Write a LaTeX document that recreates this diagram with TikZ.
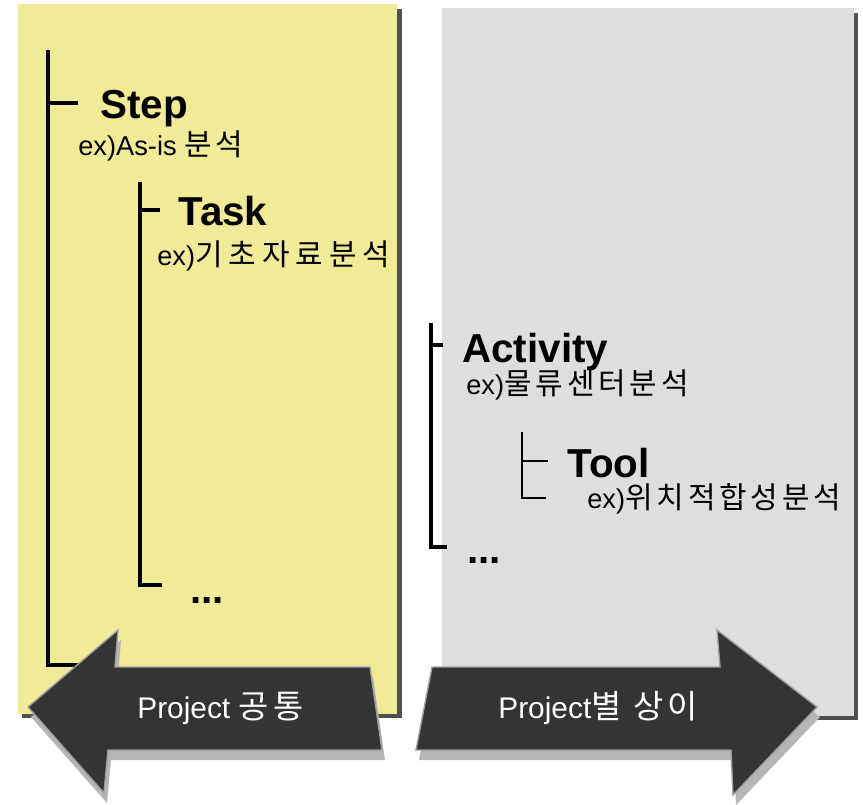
\documentclass[tikz,border=0pt]{standalone}
\usepackage{fontspec}
\setmainfont{Liberation Sans}
\newfontfamily\kr[Scale=1.1, LetterSpace=13]{Noto Sans CJK KR}
\newfontfamily\krwide[Scale=1.1, LetterSpace=20]{Noto Sans CJK KR}
\usepackage{xcolor}
\usepackage{tikz}
\usetikzlibrary{calc, positioning}
\definecolor{panelYellow}{RGB}{240,235,150}
\definecolor{panelGray}{RGB}{222,222,222}
\definecolor{panelShadow}{RGB}{80,80,80}
\definecolor{arrowDark}{RGB}{52,52,52}
\definecolor{arrowShadow}{RGB}{182,182,182}
\tikzset{
    panel/.style={fill=#1, draw=none},
    panelShade/.style={fill=panelShadow, draw=none},
    bar/.style={line width=2.3pt, draw=black},
    thinBar/.style={line width=1.5pt, draw=black},
    head/.style={inner sep=0pt, anchor=base west, font=\fontsize{23}{27}\selectfont\bfseries},
    example/.style={inner sep=0pt, anchor=base west, font=\fontsize{15.5}{18}\selectfont},
    more/.style={inner sep=0pt, anchor=base west, font=\fontsize{23}{27}\selectfont\bfseries},
    bigArrow/.style={fill=arrowDark, draw=gray!75, line width=0.8pt, line join=miter},
    arrowShade/.style={fill=arrowShadow, draw=none},
    arrowText/.style={inner sep=0pt, anchor=base west, text=white, font=\fontsize{17}{20}\selectfont}
}

\begin{document}
\begin{tikzpicture}[x=0.02cm, y=-0.02cm]
    \useasboundingbox (0,0) rectangle (863,805);

    % --- PANELS ---
    \fill[panelShade] (22,9) rectangle (402,718);
    \fill[panel=panelYellow] (18,4) rectangle (397,714);
    \fill[panelShade] (446,13) rectangle (858,720);
    \fill[panel=panelGray] (442,8) rectangle (854,716);

    % --- COMMON PART (left) ---
    \coordinate (stepTop) at (48,50);
    \coordinate (stepBot) at (48,665);
    \coordinate (stepTick) at (48,103);
    \draw[bar] (stepTop) -- (stepBot) -- ++(32,0);
    \draw[bar] (stepTick) -- ++(30,0);
    \node[head] (step) at (100,118) {Step};
    \node[example] (stepEx) at (78,155) {ex)As-is {\kr 분석}};

    \coordinate (taskTop) at (140,182);
    \coordinate (taskBot) at (140,585);
    \coordinate (taskTick) at (140,210);
    \draw[bar] (taskTop) -- (taskBot) -- ++(22,0);
    \draw[bar] (taskTick) -- ++(20,0);
    \node[head] (task) at (178,225) {Task};
    \node[example] (taskEx) at (157,265) {ex){\krwide 기초자료분석}};
    \node[more] (taskMore) at (190,603) {...};

    % --- PROJECT SPECIFIC PART (right) ---
    \coordinate (actTop) at (431,323);
    \coordinate (actBot) at (431,547);
    \coordinate (actTick) at (431,345);
    \draw[bar] (actTop) -- (actBot) -- ++(16,0);
    \draw[bar] (actTick) -- ++(12,0);
    \node[head] (activity) at (462,362) {Activity};
    \node[example] (activityEx) at (466,394) {ex){\kr 물류센터분석}};
    \node[more] (actMore) at (467,563) {...};

    \coordinate (toolTop) at (522,432);
    \coordinate (toolBot) at (522,498);
    \coordinate (toolTick) at (522,461);
    \draw[thinBar] (toolTop) -- (toolBot) -- ++(24,0);
    \draw[thinBar] (toolTick) -- ++(26,0);
    \node[head] (tool) at (567,477) {Tool};
    \node[example] (toolEx) at (587,508) {ex){\kr 위치적합성분석}};

    % --- ARROWS ---
    \fill[arrowShade, shift={(3,10)}] (28,707) -- (118,630) -- (115,667) -- (370,667)
        -- (382,750) -- (108,750) -- (104,793) -- cycle;
    \filldraw[bigArrow] (28,707) -- (118,630) -- (115,667) -- (370,667)
        -- (382,750) -- (108,750) -- (104,793) -- cycle;
    \node[arrowText] (common) at (137,718) {Project {\kr 공통}};

    \fill[arrowShade, shift={(3,10)}] (432,667) -- (720,667) -- (717,630) -- (817,707)
        -- (733,795) -- (731,750) -- (416,750) -- cycle;
    \filldraw[bigArrow] (432,667) -- (720,667) -- (717,630) -- (817,707)
        -- (733,795) -- (731,750) -- (416,750) -- cycle;
    \node[arrowText] (differ) at (498,718) {Project{\kr 별 상이}};

\end{tikzpicture}
\end{document}
